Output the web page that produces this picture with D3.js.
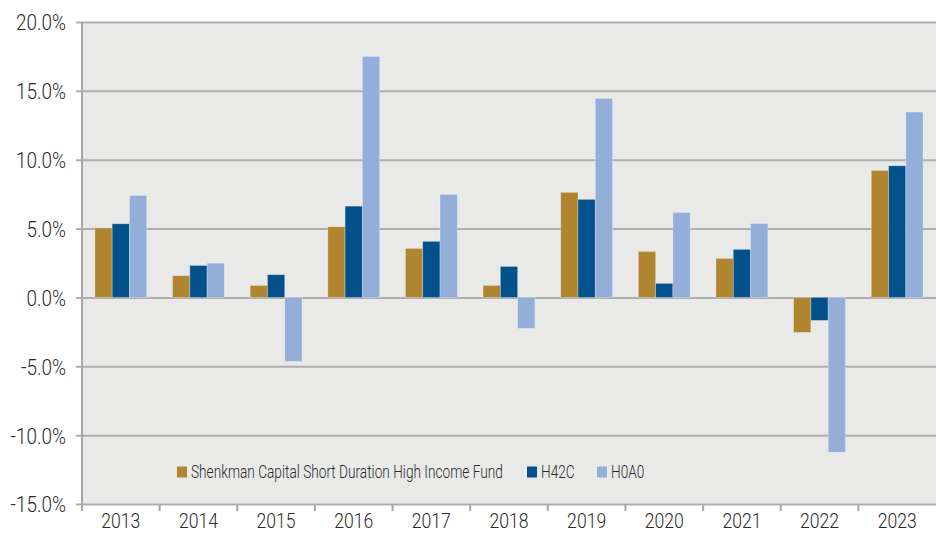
<!DOCTYPE html>
<html>
<head>
<meta charset="utf-8">
<script src="https://cdn.jsdelivr.net/npm/d3@7"></script>
<style>
  body { margin: 0; background: #fff; }
  text { font-family: Roboto, "DejaVu Sans Condensed", sans-serif; font-weight: 300; fill: #2a2a2a; }
</style>
</head>
<body>
<div id="chart"></div>
<script>
const years = ["2013", "2014", "2015", "2016", "2017", "2018", "2019", "2020", "2021", "2022", "2023"];
const seriesNames = ["Shenkman Capital Short Duration High Income Fund", "H42C", "H0A0"];
const fundValues = [5.05, 1.58, 0.87, 5.13, 3.56, 0.87, 7.63, 3.34, 2.83, -2.54, 9.22];
const h42cValues = [5.35, 2.32, 1.65, 6.63, 4.07, 2.25, 7.12, 1.02, 3.49, -1.67, 9.56];
const h0a0Values = [7.40, 2.49, -4.65, 17.5, 7.48, -2.25, 14.45, 6.17, 5.37, -11.24, 13.46];
const yTicks = [-15, -10, -5, 0, 5, 10, 15, 20];
const colors = ["#b0852f", "#02518a", "#92aed9"];

const width = 936, height = 533;
const margin = {top: 22, right: 0, bottom: 29, left: 82};
const innerW = width - margin.left - margin.right;
const innerH = height - margin.top - margin.bottom;

// squeeze text horizontally (the original font is a narrow DIN-like face)
function condense(sel, k) {
  sel.each(function() {
    const t = d3.select(this);
    const x = +t.attr("x") || 0;
    t.attr("x", x / k).attr("transform", `scale(${k},1)`);
  });
}

const svg = d3.select("#chart").append("svg")
  .attr("width", width)
  .attr("height", height);

const g = svg.append("g")
  .attr("transform", `translate(${margin.left},${margin.top})`);

const x0 = d3.scaleBand().domain(years).range([0, innerW]).paddingInner(0).paddingOuter(0);
const x1 = d3.scaleBand().domain(d3.range(3)).range([0, x0.bandwidth()]).paddingInner(0).paddingOuter(0.745);
const y = d3.scaleLinear().domain([-15, 20]).range([innerH, 0]);

// plot background
g.append("rect")
  .attr("width", innerW)
  .attr("height", innerH)
  .attr("fill", "#e9e9e8");

// gridlines + y labels
const yAxis = d3.axisLeft(y).tickValues(yTicks).tickSize(-innerW - 6).tickFormat(d => d.toFixed(1) + "%");
g.append("g")
  .attr("transform", "translate(-6,0)")
  .call(yAxis)
  .call(a => a.select(".domain").remove())
  .call(a => a.selectAll(".tick line").attr("stroke", "#aeaeae").attr("stroke-width", 2))
  .call(a => a.selectAll(".tick text")
    .attr("x", -10)
    .attr("dy", "0.36em")
    .attr("font-size", 22)
    .attr("fill", "#2a2a2a")
    .call(condense, 0.86));

// bars
const data = years.map((yr, i) => ({year: yr, values: [fundValues[i], h42cValues[i], h0a0Values[i]]}));
g.append("g")
  .selectAll("g")
  .data(data)
  .join("g")
    .attr("transform", d => `translate(${x0(d.year)},0)`)
  .selectAll("rect")
  .data(d => d.values.map((v, k) => ({k, v})))
  .join("rect")
    .attr("x", d => x1(d.k))
    .attr("width", x1.bandwidth())
    .attr("y", d => y(Math.max(0, d.v)))
    .attr("height", d => Math.abs(y(d.v) - y(0)))
    .attr("fill", d => colors[d.k])
    .attr("stroke", "rgba(255,255,255,0.35)")
    .attr("stroke-width", 0.8);

// left axis line
g.append("line")
  .attr("x1", 0).attr("x2", 0)
  .attr("y1", 0).attr("y2", innerH + 7)
  .attr("stroke", "#a6a6a6")
  .attr("stroke-width", 2);

// bottom axis ticks & labels
const xAxis = d3.axisBottom(x0).tickSize(0).tickPadding(10);
const xa = g.append("g")
  .attr("transform", `translate(0,${innerH})`)
  .call(xAxis)
  .call(a => a.select(".domain").remove())
  .call(a => a.selectAll(".tick text")
    .attr("font-size", 20)
    .attr("fill", "#2a2a2a")
    .call(condense, 0.88));
xa.selectAll(".boundary")
  .data(years.slice(1))
  .join("line")
    .attr("class", "boundary")
    .attr("x1", d => x0(d)).attr("x2", d => x0(d))
    .attr("y1", 0).attr("y2", 7)
    .attr("stroke", "#a6a6a6")
    .attr("stroke-width", 2);

// legend
const legendX = [177, 527, 597];
const legend = svg.append("g")
  .attr("transform", "translate(0,472)");
legend.selectAll("g")
  .data(seriesNames)
  .join("g")
    .attr("transform", (d, i) => `translate(${legendX[i]},0)`)
    .call(l => l.append("rect")
      .attr("x", 0).attr("y", -5.5)
      .attr("width", 10).attr("height", 11)
      .attr("fill", (d, i) => colors[i]))
    .call(l => l.append("text")
      .attr("x", 14)
      .attr("dy", "0.36em")
      .attr("font-size", 18)
      .attr("font-weight", 400)
      .attr("fill", "#111")
      .text(d => d)
      .call(condense, 0.76));
</script>
</body>
</html>
